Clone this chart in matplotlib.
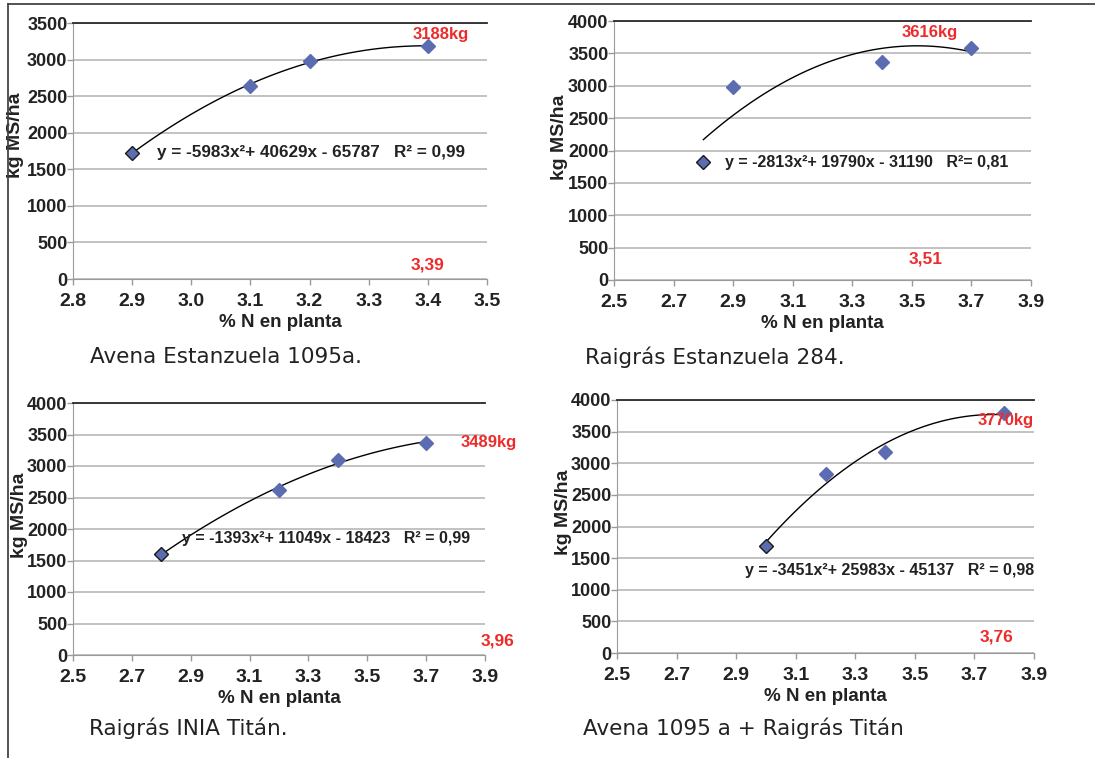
import numpy as np
import matplotlib
matplotlib.use('Agg')
import matplotlib.pyplot as plt
from matplotlib.lines import Line2D

# datos: % N en planta vs kg MS/ha
x1 = [2.9, 3.1, 3.2, 3.4]
y1 = [1720, 2635, 2985, 3180]
coef1 = [-5983, 40629, -65787]
eq1 = 'y = -5983x\u00b2+ 40629x - 65787   R\u00b2 = 0,99'

x2 = [2.8, 2.9, 3.4, 3.7]
y2 = [1825, 2980, 3365, 3590]
coef2 = [-2813, 19790, -31190]
eq2 = 'y = -2813x\u00b2+ 19790x - 31190   R\u00b2= 0,81'

x3 = [2.8, 3.2, 3.4, 3.7]
y3 = [1610, 2615, 3100, 3370]
coef3 = [-1393, 11049, -18423]
eq3 = 'y = -1393x\u00b2+ 11049x - 18423   R\u00b2 = 0,99'

x4 = [3.0, 3.2, 3.4, 3.8]
y4 = [1685, 2830, 3185, 3790]
coef4 = [-3451, 25983, -45137]
eq4 = 'y = -3451x\u00b2+ 25983x - 45137   R\u00b2 = 0,98'

maximos = ['3188kg', '3616kg', '3489kg', '3770kg']
optimos = ['3,39', '3,51', '3,96', '3,76']
titulos = ['Avena Estanzuela 1095a.', 'Raigr\u00e1s Estanzuela 284.',
           'Raigr\u00e1s INIA Tit\u00e1n.', 'Avena 1095 a + Raigr\u00e1s Tit\u00e1n']

W, H = 1095, 758
fig = plt.figure(figsize=(W / 100, H / 100), dpi=100)
plt.rcParams['font.family'] = ['Liberation Sans', 'DejaVu Sans']

AZUL = '#5b6db0'
ROJO = '#ee2b2b'


def px(x, y):
    # pixeles -> fraccion de figura
    return x / W, 1 - y / H


def grafico(caja, xs, ys, coef, xticks, ymax, eq, eq_pos, eq_size, maxi, maxi_pos, opt, opt_pos,
            tit, tit_pos, ylab_pos):
    l, t, r, b = caja
    ax = fig.add_axes([l / W, 1 - b / H, (r - l) / W, (b - t) / H])
    ax.set_xlim(xticks[0], xticks[-1])
    ax.set_ylim(0, ymax)
    ax.set_xticks(xticks)
    ax.set_xticklabels(['%.1f' % v for v in xticks])
    ax.set_yticks(np.arange(0, ymax + 1, 500))
    ax.yaxis.grid(True, color='#bdbdbd', lw=1.3)
    ax.set_axisbelow(True)
    ax.spines['right'].set_visible(False)
    ax.spines['top'].set_color('#2a2a2a')
    ax.spines['top'].set_linewidth(1.3)
    ax.spines['left'].set_color('#9a9a9a')
    ax.spines['bottom'].set_color('#9a9a9a')
    ax.tick_params(axis='both', colors='#9a9a9a', labelcolor='#222222', length=4, width=1)
    ax.tick_params(axis='x', pad=6, labelsize=14)
    ax.tick_params(axis='y', pad=0, labelsize=13)
    for lab in ax.get_xticklabels() + ax.get_yticklabels():
        lab.set_fontweight('bold')

    # linea de tendencia polinomica
    xx = np.linspace(xs[0], xs[-1], 100)
    ax.plot(xx, np.polyval(coef, xx), color='black', lw=1, zorder=3)
    ax.plot(xs[1:], ys[1:], 'D', color=AZUL, ms=7.5, mec=AZUL, zorder=4)
    ax.plot(xs[:1], ys[:1], 'D', color=AZUL, ms=7.5, mec='#1a1a1a', mew=1, zorder=4)

    ax.set_ylabel('kg MS/ha', fontsize=14, fontweight='bold', color='#222222')
    ax.yaxis.label.set_verticalalignment('center')
    ax.yaxis.set_label_coords((ylab_pos[0] - l) / (r - l), (b - ylab_pos[1]) / (b - t))
    ax.set_xlabel('% N en planta', fontsize=13.5, fontweight='bold', color='#222222', labelpad=3)

    fig.text(*px(*eq_pos), eq, fontsize=eq_size, fontweight='bold', color='#222222', va='center')
    fig.text(*px(*maxi_pos), maxi, fontsize=12, fontweight='bold', color=ROJO, ha='center', va='center')
    fig.text(*px(*opt_pos), opt, fontsize=12.5, fontweight='bold', color=ROJO, ha='center', va='center')
    fig.text(*px(*tit_pos), tit, fontsize=15.5, family='DejaVu Sans', color='#222222', va='center')
    return ax


xt1 = np.round(np.arange(2.8, 3.51, 0.1), 1)
xt = np.round(np.arange(2.5, 3.91, 0.2), 1)

grafico((73, 23, 487, 279), x1, y1, coef1, xt1, 3500, eq1, (157, 153), 12.3,
        maximos[0], (441, 35), optimos[0], (428, 265), titulos[0], (90, 357), (16, 135))
grafico((614, 21, 1031, 280), x2, y2, coef2, xt, 4000, eq2, (725, 163), 11.5,
        maximos[1], (930, 32), optimos[1], (926, 259), titulos[1], (585, 357), (560, 137))
grafico((73, 403, 485, 655), x3, y3, coef3, xt, 4000, eq3, (182, 539), 11.5,
        maximos[2], (489, 443), optimos[2], (498, 641), titulos[2], (89, 728), (20, 515))
grafico((617, 400, 1034, 653), x4, y4, coef4, xt, 4000, eq4, (745, 571), 11.5,
        maximos[3], (1006, 421), optimos[3], (997, 637), titulos[3], (583, 728), (563, 512))

# marco de la pagina
fig.add_artist(Line2D([7.5 / W, 1], [1 - 3.5 / H] * 2, color='#444444', lw=1.3))
fig.add_artist(Line2D([7.5 / W] * 2, [0, 1 - 3.5 / H], color='#444444', lw=1.3))

fig.savefig('out.png', dpi=100)
